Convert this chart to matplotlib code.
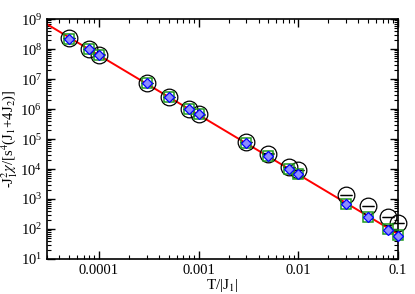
import numpy as np
import matplotlib
matplotlib.use('Agg')
import matplotlib.pyplot as plt
from matplotlib.ticker import FixedLocator, FixedFormatter, LogLocator, NullFormatter

plt.rcParams['font.family'] = ['Liberation Serif', 'DejaVu Serif']
plt.rcParams['mathtext.fontset'] = 'stix'

# temperatures T/|J1|
T = [5e-5, 8e-5, 1e-4, 3e-4, 5e-4, 8e-4, 1e-3, 3e-3, 5e-3, 8e-3, 1e-2, 3e-2, 5e-2, 8e-2, 0.1]

# circles (with small error bars)
y_circ = [2.4e8, 1.0e8, 6.6e7, 7.2e6, 2.6e6, 1.03e6, 6.6e5, 8.1e4, 3.3e4, 1.2e4, 9.3e3, 1360, 590, 256, 155]
err_circ = [0.01 * v for v in y_circ]
# squares
y_sq = [2.2e8, 1.0e8, 6.6e7, 7.2e6, 2.6e6, 1.0e6, 6.6e5, 7.4e4, 2.8e4, 1.0e4, 6.8e3, 700, 260, 98, 62]
# diamonds
y_dia = [2.15e8, 1.0e8, 6.6e7, 7.2e6, 2.6e6, 1.0e6, 6.6e5, 7.2e4, 2.8e4, 1.0e4, 6.6e3, 680, 245, 93, 59]

# red fit line end points
T_fit = [3e-5, 0.1]
y_fit = [6.8e8, 68]

xticks = [1e-4, 1e-3, 1e-2, 1e-1]
xtick_labels = ['0.0001', '0.001', '0.01', '0.1']

fig = plt.figure(figsize=(4.15, 2.94), dpi=100)
ax = fig.add_axes([0.113, 0.119, 0.846, 0.816])

ax.plot(T_fit, y_fit, color='red', lw=1.4, zorder=2)
eb = ax.errorbar(T, y_circ, yerr=err_circ, fmt='o', mfc='none', mec='black', mew=0.9,
                 ms=12, ecolor='black', elinewidth=0.8, capsize=4.5, capthick=0.8, zorder=3)
for art in [eb[0], *eb[1], *eb[2]]:
	art.set_clip_on(False)
ax.plot(T, y_sq, 's', mfc='none', mec='#1f9a1f', mew=1.1, ms=7.5, zorder=4, clip_on=False)
ax.plot(T, y_dia, 'D', mfc='#8c8cff', mec='blue', mew=0.9, ms=5, zorder=5, clip_on=False)

ax.set_xscale('log')
ax.set_yscale('log')
ax.set_xlim(3e-5, 0.1)
ax.set_ylim(10, 1e9)

ax.xaxis.set_major_locator(FixedLocator(xticks))
ax.xaxis.set_major_formatter(FixedFormatter(xtick_labels))
ax.xaxis.set_minor_locator(LogLocator(base=10, subs=np.arange(2, 10), numticks=20))
ax.xaxis.set_minor_formatter(NullFormatter())
ax.yaxis.set_major_locator(LogLocator(base=10, numticks=20))
ax.yaxis.set_minor_locator(LogLocator(base=10, subs=np.arange(2, 10), numticks=20))
ax.yaxis.set_minor_formatter(NullFormatter())

ax.tick_params(which='both', direction='in', top=True, right=True, labelsize=10.5)
ax.tick_params(which='major', length=6, width=1)
ax.tick_params(which='minor', length=3, width=0.8)
for s in ax.spines.values():
	s.set_linewidth(1.2)

ax.set_xlabel(r'T/|J$_1$|', fontsize=11, labelpad=0)
ax.set_ylabel(r'-J$_1^2\chi$/[s$^4$(J$_1$+4J$_2$)]', fontsize=10.5, labelpad=0)

fig.savefig('out.png', dpi=100)
